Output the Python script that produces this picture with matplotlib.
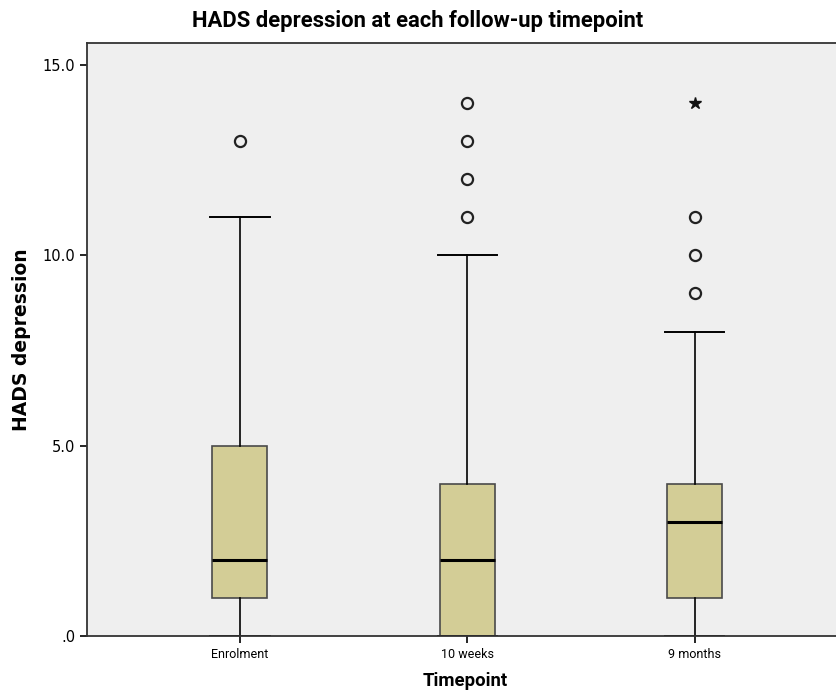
import matplotlib.pyplot as plt

# Five-number summaries per timepoint (HADS depression score)
timepoints = ["Enrolment", "10 weeks", "9 months"]
whisker_low = [0, 0, 0]
q1 = [1, 0, 1]
median = [2, 2, 3]
q3 = [5, 4, 4]
whisker_high = [11, 10, 8]
# Outliers (circles) and extreme values (stars)
outliers = [[13], [11, 12, 13, 14], [9, 10, 11]]
extremes = [[], [], [14]]

stats = []
for i, name in enumerate(timepoints):
    stats.append({
        "label": name,
        "whislo": whisker_low[i],
        "q1": q1[i],
        "med": median[i],
        "q3": q3[i],
        "whishi": whisker_high[i],
        "fliers": outliers[i],
    })

narrow = "Roboto"

fig = plt.figure(figsize=(8.36, 6.99), dpi=100)
ax = fig.add_axes([87 / 836, 63 / 699, 1 - 87 / 836 + 0.01, (636 - 43) / 699])
ax.set_facecolor("#efefef")

positions = [1, 2, 3]
ax.bxp(stats, positions=positions, widths=0.242, patch_artist=True,
       boxprops=dict(facecolor="#d3cd96", edgecolor="#4a4a4a", linewidth=1.2),
       medianprops=dict(color="black", linewidth=2.2),
       whiskerprops=dict(color="black", linewidth=1.2),
       capprops=dict(color="black", linewidth=1.4),
       capwidths=0.26,
       flierprops=dict(marker="o", markersize=8, markerfacecolor="none",
                       markeredgecolor="#222222", markeredgewidth=1.6))

for pos, ext in zip(positions, extremes):
    if ext:
        ax.plot([pos] * len(ext), ext, linestyle="none", marker="*",
                markersize=9, color="#111111")

ax.set_xlim(0.3275, 3.657)
ax.set_ylim(0, 15.58)
ax.set_yticks([0, 5, 10, 15])
ax.set_yticklabels([".0", "5.0", "10.0", "15.0"], fontsize=10.5)
ax.set_xticks(positions)
ax.set_xticklabels(timepoints, fontsize=9, family=narrow)
ax.tick_params(direction="out", length=5, width=1.2, color="black")

for side in ["left", "bottom", "top"]:
    ax.spines[side].set_linewidth(1.3)
    ax.spines[side].set_color("#333333")
ax.spines["right"].set_visible(False)

ax.set_xlabel("Timepoint", fontsize=13.3, fontweight="bold", family=narrow,
              labelpad=8)
ax.set_ylabel("HADS depression", fontsize=13.5, fontweight="bold", labelpad=8)
fig.suptitle("HADS depression at each follow-up timepoint", x=0.5, y=0.985,
             fontsize=15.8, fontweight="bold", family=narrow, va="top")

fig.savefig("out.png", dpi=100)
